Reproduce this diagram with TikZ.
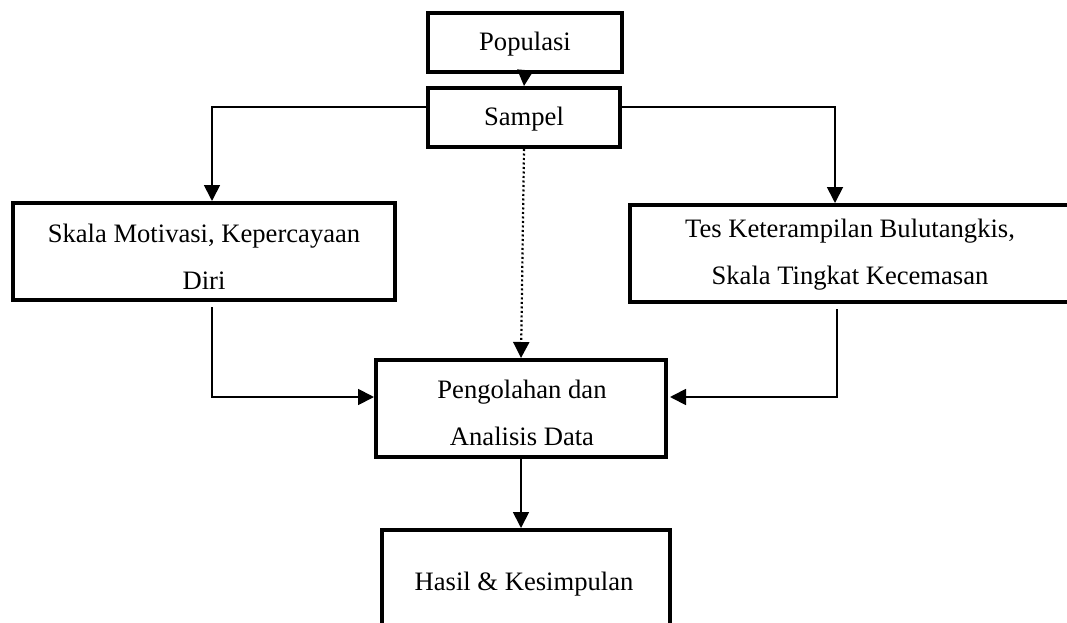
\documentclass[tikz,border=0pt]{standalone}
\usepackage{fontspec}
\setmainfont{Liberation Serif}
\usetikzlibrary{arrows.meta,calc}
\begin{document}
\begin{tikzpicture}[x=1pt,y=-1pt,
  box/.style={draw=black,line width=4pt,fill=white,inner sep=0pt},
  txt/.style={align=center,inner sep=0pt,font=\fontsize{26.6}{47}\selectfont},
  conn/.style={line width=1.8pt,-{Triangle[length=16pt,width=16pt]}},
  dotconn/.style={conn,line width=2.2pt,dash pattern=on 2pt off 2.5pt}]
\clip (0,0) rectangle (1067,623);
\fill[white] (0,0) rectangle (1067,623);
% boxes
\node[box,minimum width=194pt,minimum height=59pt] (pop) at (525,42.5) {};
\node[txt] at (525,44) {Populasi};
\node[box,minimum width=192pt,minimum height=59pt] (samp) at (524,117.5) {};
\node[txt] at (524,119) {Sampel};
\node[box,minimum width=382pt,minimum height=97pt] (skala) at (204,251.5) {};
\node[txt] at (204,256.5) {Skala Motivasi, Kepercayaan\\Diri};
\node[box,minimum width=440pt,minimum height=97pt] (tes) at (850,253.5) {};
\node[txt] at (850,255) {Tes Keterampilan Bulutangkis,\\Skala Tingkat Kecemasan};
\node[box,minimum width=290pt,minimum height=97pt] (olah) at (521,408.5) {};
\node[txt] at (522,412.5) {Pengolahan dan\\Analisis Data};
\node[box,minimum width=288pt,minimum height=140pt] (hasil) at (526,600) {};
\node[txt] at (524,584) {Hasil \& Kesimpulan};
% connectors
\draw[conn] (pop.south) -- (samp.north);
\draw[conn] ([yshift=10.5pt]samp.west) -| ([xshift=8pt]skala.north);
\draw[conn] ([yshift=10.5pt]samp.east) -| ([xshift=-15pt]tes.north);
\draw[dotconn] (samp.south) -- (olah.north);
\draw[conn] ([xshift=8pt,yshift=-5pt]skala.south) |- ([yshift=11.5pt]olah.west);
\draw[conn] ([xshift=-13pt,yshift=-5pt]tes.south) |- ([xshift=2pt,yshift=11.5pt]olah.east);
\draw[conn] (olah.south) -- (olah.south |- hasil.north);
\end{tikzpicture}
\end{document}
